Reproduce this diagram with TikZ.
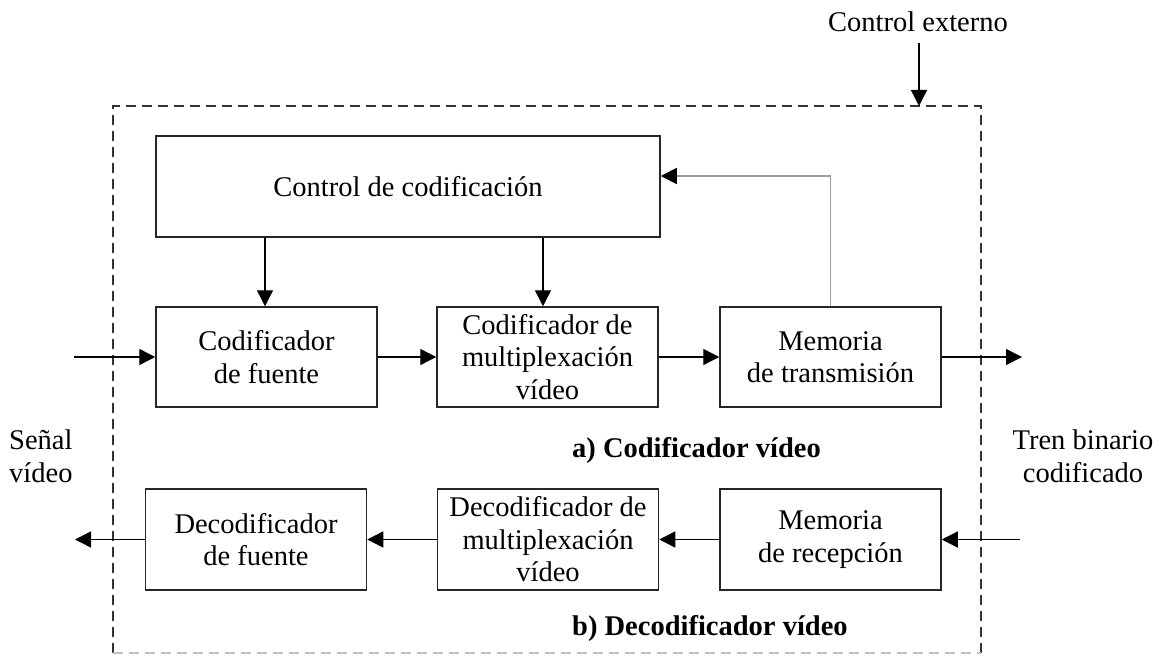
\documentclass[tikz,border=0pt]{standalone}
\usepackage{fontspec}
\setmainfont{Liberation Serif}
\usetikzlibrary{arrows.meta,calc}
\begin{document}
\begin{tikzpicture}[x=1pt,y=-1pt,
  font=\fontsize{28.5}{32.5}\selectfont,
  blk/.style={draw=black!85,line width=1.5pt,minimum width=221pt,minimum height=100pt,align=center,inner sep=0pt},
  arr/.style={line width=1.4pt,-{Triangle[length=16pt,width=16pt]}},
  fb/.style={line width=1.8pt,draw=black!38,-{Triangle[length=16pt,width=16pt,fill=black,color=black]}},
  lbl/.style={align=center,inner sep=0pt},
  bl/.style={font=\fontsize{28.5}{32.5}\selectfont\bfseries,anchor=west,inner sep=0pt}]
\useasboundingbox (0,0) rectangle (1159,658);
% dashed frame
\coordinate (tl) at (113,106);
\coordinate (tr) at (981,106);
\coordinate (bl) at (113,653);
\coordinate (br) at (981,653);
\draw[black!80,line width=1.4pt,dash pattern=on 10pt off 6pt] (bl) -- (tl) -- (tr) -- (br);
\draw[black!25,line width=1.4pt,dash pattern=on 10pt off 6pt] (bl) -- (br);
% external control
\node[lbl] (ext) at (918,22) {Control externo};
\coordinate (extA) at (919,43);
\coordinate (extB) at (919,106);
\draw[arr] (extA) -- (extB);
% blocks
\node[blk,minimum width=504pt,minimum height=101pt] (ctrl) at (408,186.5) {Control de codificación};
\node[blk] (cf) at (266.5,357) {Codificador\\de fuente};
\node[blk] (cm) at (547.5,357) {Codificador de\\multiplexación\\vídeo};
\node[blk] (mt) at (830.5,357) {Memoria\\de transmisión};
\node[blk,minimum height=101pt] (df) at (256,539.5) {Decodificador\\de fuente};
\node[blk,minimum height=101pt] (dm) at (548,539.5) {Decodificador de\\multiplexación\\vídeo};
\node[blk,minimum height=101pt] (mr) at (830.5,539.5) {Memoria\\de recepción};
% control arrows
\draw[arr] (ctrl.south -| 265,0) -- (cf.north -| 265,0);
\draw[arr] (ctrl.south -| 543,0) -- (cm.north -| 543,0);
% feedback
\draw[fb] (mt.north) -- (mt.north |- 0,176) -- (ctrl.east |- 0,176);
% encoder chain
\coordinate (in) at (74,357);
\coordinate (out) at (1022,357);
\draw[arr] (in) -- (cf.west);
\draw[arr] (cf.east) -- (cm.west);
\draw[arr] (cm.east) -- (mt.west);
\draw[arr] (mt.east) -- (out);
% decoder chain
\coordinate (din) at (1020,539.5);
\coordinate (dout) at (75,539.5);
\draw[arr] (din) -- (mr.east);
\draw[arr] (mr.west) -- (dm.east);
\draw[arr] (dm.west) -- (df.east);
\draw[arr] (df.west) -- (dout);
% labels
\node[lbl,align=left,anchor=west] (sv) at (9,456) {Señal\\vídeo};
\node[lbl] (tb) at (1083,456) {Tren binario\\codificado};
\node[bl] (la) at (572,450) {a) Codificador vídeo};
\node[bl] (lb) at (572,628) {b) Decodificador vídeo};
\end{tikzpicture}
\end{document}
